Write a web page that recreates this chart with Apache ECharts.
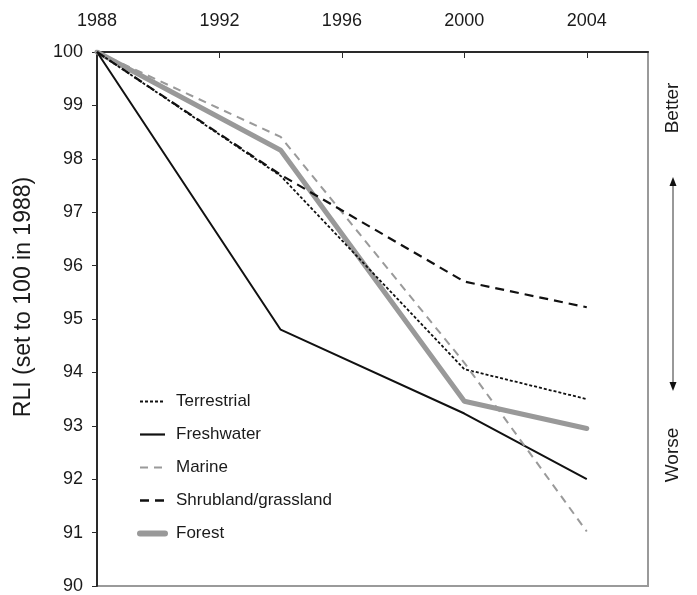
<!DOCTYPE html>
<html>
<head>
<meta charset="utf-8">
<script src="https://cdn.jsdelivr.net/npm/echarts@6/dist/echarts.min.js"></script>
<style>html,body{margin:0;padding:0;background:#fff}#c{width:697px;height:595px}</style>
</head>
<body>
<div id="c"></div>
<script>
const years = [1988, 1994, 2000, 2004];
const xTicks = [1988, 1992, 1996, 2000, 2004];
const terrestrial = [100, 97.68, 94.06, 93.5];
const freshwater = [100, 94.8, 93.23, 92.0];
const marine = [100, 98.41, 94.18, 91.02];
const shrubland = [100, 97.7, 95.7, 95.22];
const forest = [100, 98.16, 93.46, 92.95];

const FONT = 'Liberation Sans, Arial, Helvetica, sans-serif';
const TXT = '#1a1a1a';
const pair = arr => years.map((y, i) => [y, arr[i]]);

const chart = echarts.init(document.getElementById('c'), null, {renderer: 'canvas'});
chart.setOption({
  backgroundColor: '#fff',
  animation: false,
  textStyle: {fontFamily: FONT, color: TXT},
  grid: {left: 97, right: 49, top: 52, bottom: 9, show: true, borderColor: '#9a9a9a', borderWidth: 2, backgroundColor: 'transparent'},
  xAxis: {
    type: 'value', position: 'top', min: 1988, max: 2006, interval: 4,
    axisLine: {show: true, lineStyle: {color: '#2a2a2a', width: 2}},
    axisTick: {show: true, inside: true, length: 6, lineStyle: {color: '#2a2a2a', width: 1}},
    axisLabel: {fontSize: 18, color: TXT, margin: 22, showMaxLabel: false,
      formatter: v => xTicks.includes(v) ? String(v) : ''},
    splitLine: {show: false}
  },
  yAxis: {
    type: 'value', min: 90, max: 100, interval: 1,
    name: 'RLI (set to 100 in 1988)', nameLocation: 'middle', nameGap: 62, nameRotate: 90,
    nameTextStyle: {fontSize: 23, color: TXT, fontFamily: FONT, padding: [0, 0, 0, 44]},
    axisLine: {show: true, lineStyle: {color: '#2a2a2a', width: 2}},
    axisTick: {show: true, inside: false, length: 5, lineStyle: {color: '#2a2a2a', width: 1}},
    axisLabel: {fontSize: 18, color: TXT, margin: 14},
    splitLine: {show: false}
  },
  legend: {
    orient: 'vertical', left: 132, top: 388, itemGap: 16, itemWidth: 25, itemHeight: 17,
    itemStyle: {opacity: 0, color: 'transparent', borderColor: 'transparent', borderWidth: 0},
    textStyle: {fontSize: 17, color: TXT, fontFamily: FONT, padding: [0, 0, 0, 6]},
    data: [
      {name: 'Terrestrial', lineStyle: {width: 2.2}},
      {name: 'Freshwater', lineStyle: {width: 2.2}},
      {name: 'Marine', lineStyle: {width: 2.2}},
      {name: 'Shrubland/grassland', lineStyle: {width: 2.6}},
      {name: 'Forest', lineStyle: {width: 6, cap: 'round'}}
    ]
  },
  series: [
    {name: 'Terrestrial', type: 'line', symbol: 'none', data: pair(terrestrial),
      lineStyle: {color: '#111', width: 1.8, type: [3, 2]}, itemStyle: {color: '#111'}},
    {name: 'Freshwater', type: 'line', symbol: 'none', data: pair(freshwater),
      lineStyle: {color: '#111', width: 2}, itemStyle: {color: '#111'}},
    {name: 'Marine', type: 'line', symbol: 'none', data: pair(marine),
      lineStyle: {color: '#9a9a9a', width: 2, type: [8, 6]}, itemStyle: {color: '#9a9a9a'}},
    {name: 'Shrubland/grassland', type: 'line', symbol: 'none', data: pair(shrubland),
      lineStyle: {color: '#111', width: 2.2, type: [9, 6]}, itemStyle: {color: '#111'}},
    {name: 'Forest', type: 'line', symbol: 'none', data: pair(forest), z: 1,
      lineStyle: {color: '#999', width: 5, cap: 'round'}, itemStyle: {color: '#999'}}
  ],
  graphic: [
    {type: 'text', x: 673, y: 108, rotation: Math.PI / 2,
      style: {text: 'Better', fontSize: 19, fontFamily: FONT, fill: TXT, align: 'center', verticalAlign: 'middle'}},
    {type: 'text', x: 673, y: 455, rotation: Math.PI / 2,
      style: {text: 'Worse', fontSize: 19, fontFamily: FONT, fill: TXT, align: 'center', verticalAlign: 'middle'}},
    {type: 'line', shape: {x1: 673, y1: 184, x2: 673, y2: 384}, style: {stroke: '#333', lineWidth: 1}},
    {type: 'polygon', shape: {points: [[673, 177], [669.5, 186], [676.5, 186]]}, style: {fill: '#111'}},
    {type: 'polygon', shape: {points: [[673, 391], [669.5, 382], [676.5, 382]]}, style: {fill: '#111'}}
  ]
});
</script>
</body>
</html>
